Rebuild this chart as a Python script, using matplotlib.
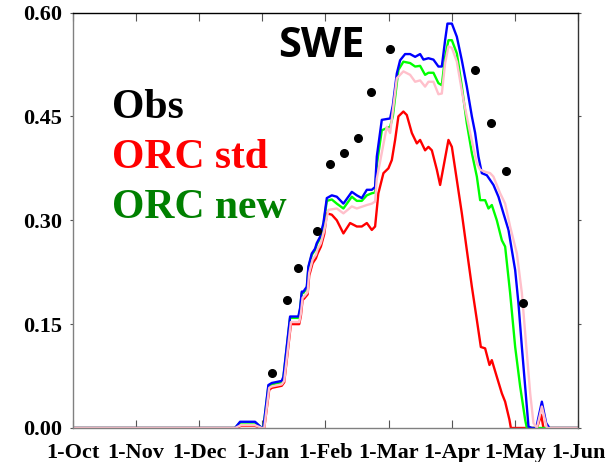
import matplotlib
matplotlib.use('Agg')
import matplotlib.pyplot as plt

# x positions are in months after 1-Oct (month ticks are evenly spaced)
month_labels = ['1-Oct', '1-Nov', '1-Dec', '1-Jan', '1-Feb',
                '1-Mar', '1-Apr', '1-May', '1-Jun']
y_ticks = [0.00, 0.15, 0.30, 0.45, 0.60]

obs_x = [3.15, 3.39, 3.57, 3.87, 4.07, 4.29, 4.52, 4.72, 5.02,
         6.37, 6.62, 6.86, 7.13]
obs_y = [0.079, 0.185, 0.231, 0.284, 0.381, 0.397, 0.419, 0.485, 0.547,
         0.517, 0.440, 0.371, 0.180]

blue_x = [0.0, 2.567, 2.647, 2.884, 2.990, 3.016, 3.095, 3.149, 3.307,
          3.333, 3.439, 3.571, 3.597, 3.624, 3.650, 3.704, 3.729, 3.783,
          3.835, 3.862, 3.914, 3.967, 4.021, 4.100, 4.179, 4.284, 4.417,
          4.496, 4.575, 4.655, 4.734, 4.786, 4.813, 4.892, 5.024, 5.067,
          5.130, 5.182, 5.261, 5.341, 5.420, 5.499, 5.552, 5.631, 5.710,
          5.789, 5.843, 5.895, 5.932, 6.002, 6.081, 6.160, 6.239, 6.319,
          6.371, 6.423, 6.477, 6.556, 6.609, 6.661, 6.740, 6.819, 6.899,
          7.005, 7.057, 7.111, 7.163, 7.216, 7.269, 7.338, 7.428, 7.496,
          7.548, 8.0]
blue_y = [0.0, 0.0, 0.009, 0.009, 0.0, 0.0, 0.062, 0.065, 0.068,
          0.074, 0.161, 0.161, 0.173, 0.197, 0.197, 0.204, 0.233, 0.252,
          0.259, 0.267, 0.276, 0.296, 0.332, 0.336, 0.334, 0.324, 0.341,
          0.336, 0.332, 0.344, 0.344, 0.348, 0.392, 0.445, 0.447, 0.466,
          0.512, 0.531, 0.540, 0.540, 0.536, 0.540, 0.532, 0.534, 0.532,
          0.522, 0.522, 0.560, 0.584, 0.584, 0.565, 0.531, 0.493, 0.450,
          0.426, 0.392, 0.368, 0.365, 0.358, 0.351, 0.334, 0.310, 0.286,
          0.228, 0.180, 0.117, 0.060, 0.002, 0.0, 0.0, 0.038, 0.007,
          0.0, 0.0]

green_x = [0.0, 2.567, 2.647, 2.884, 2.990, 3.016, 3.095, 3.149, 3.307,
           3.333, 3.439, 3.571, 3.597, 3.624, 3.650, 3.704, 3.729, 3.783,
           3.835, 3.862, 3.914, 3.967, 4.021, 4.100, 4.179, 4.284, 4.417,
           4.496, 4.575, 4.655, 4.734, 4.786, 4.813, 4.892, 5.024, 5.067,
           5.155, 5.234, 5.341, 5.420, 5.499, 5.578, 5.631, 5.710, 5.789,
           5.843, 5.895, 5.948, 6.002, 6.081, 6.160, 6.239, 6.319, 6.398,
           6.450, 6.529, 6.582, 6.635, 6.714, 6.794, 6.846, 6.925, 7.005,
           7.084, 7.163, 7.190, 8.0]
green_y = [0.0, 0.0, 0.008, 0.008, 0.0, 0.0, 0.060, 0.063, 0.066,
           0.072, 0.159, 0.159, 0.171, 0.195, 0.195, 0.202, 0.231, 0.250,
           0.257, 0.265, 0.274, 0.293, 0.328, 0.330, 0.324, 0.317, 0.334,
           0.328, 0.328, 0.336, 0.339, 0.340, 0.380, 0.430, 0.435, 0.450,
           0.517, 0.529, 0.527, 0.522, 0.523, 0.510, 0.513, 0.513, 0.498,
           0.495, 0.536, 0.560, 0.560, 0.541, 0.493, 0.440, 0.397, 0.363,
           0.329, 0.329, 0.317, 0.322, 0.300, 0.271, 0.262, 0.195, 0.117,
           0.060, 0.012, 0.0, 0.0]

pink_x = [0.0, 2.567, 2.660, 2.884, 2.990, 3.030, 3.108, 3.149, 3.307,
          3.346, 3.452, 3.584, 3.610, 3.637, 3.663, 3.717, 3.742, 3.796,
          3.848, 3.875, 3.927, 3.980, 4.046, 4.179, 4.284, 4.417, 4.496,
          4.655, 4.734, 4.786, 4.813, 4.971, 5.024, 5.130, 5.234, 5.341,
          5.420, 5.499, 5.578, 5.631, 5.710, 5.789, 5.843, 5.895, 5.948,
          6.002, 6.081, 6.185, 6.292, 6.398, 6.450, 6.529, 6.609, 6.661,
          6.767, 6.846, 6.925, 7.032, 7.111, 7.190, 7.243, 7.295, 7.349,
          7.428, 7.507, 8.0]
pink_y = [0.0, 0.0, 0.004, 0.004, 0.0, 0.0, 0.058, 0.060, 0.063,
          0.068, 0.153, 0.153, 0.165, 0.188, 0.190, 0.196, 0.224, 0.243,
          0.250, 0.258, 0.267, 0.285, 0.315, 0.317, 0.310, 0.320, 0.317,
          0.322, 0.324, 0.327, 0.360, 0.435, 0.426, 0.505, 0.515, 0.510,
          0.500, 0.502, 0.493, 0.500, 0.500, 0.482, 0.483, 0.527, 0.551,
          0.549, 0.529, 0.474, 0.426, 0.382, 0.373, 0.370, 0.368, 0.363,
          0.339, 0.324, 0.291, 0.252, 0.195, 0.108, 0.050, 0.007, 0.0,
          0.031, 0.0, 0.0]

red_x = [0.0, 2.567, 2.660, 2.884, 2.990, 3.030, 3.108, 3.149, 3.307,
         3.346, 3.452, 3.584, 3.610, 3.637, 3.663, 3.717, 3.742, 3.796,
         3.848, 3.875, 3.927, 3.980, 4.021, 4.100, 4.179, 4.284, 4.390,
         4.496, 4.575, 4.655, 4.734, 4.786, 4.838, 4.918, 4.997, 5.051,
         5.103, 5.155, 5.234, 5.288, 5.368, 5.447, 5.499, 5.578, 5.631,
         5.685, 5.764, 5.816, 5.869, 5.948, 6.002, 6.081, 6.160, 6.239,
         6.319, 6.398, 6.461, 6.529, 6.598, 6.635, 6.714, 6.794, 6.846,
         6.914, 6.937, 7.350, 7.417, 7.453, 8.0]
red_y = [0.0, 0.0, 0.003, 0.003, 0.0, 0.0, 0.055, 0.058, 0.061,
         0.066, 0.150, 0.150, 0.162, 0.185, 0.187, 0.193, 0.220, 0.238,
         0.245, 0.252, 0.262, 0.280, 0.310, 0.308, 0.300, 0.281, 0.296,
         0.291, 0.291, 0.296, 0.286, 0.291, 0.339, 0.368, 0.375, 0.387,
         0.416, 0.450, 0.457, 0.452, 0.426, 0.411, 0.416, 0.401, 0.406,
         0.401, 0.373, 0.351, 0.377, 0.416, 0.406, 0.358, 0.310, 0.257,
         0.204, 0.156, 0.117, 0.115, 0.091, 0.098, 0.074, 0.050, 0.038,
         0.012, 0.0, 0.0, 0.019, 0.0, 0.0]

serif = 'Liberation Serif'

fig = plt.figure(figsize=(6.15, 4.62), dpi=100)
ax = fig.add_axes([0.1187, 0.0736, 0.8211, 0.8993])

ax.plot(red_x, red_y, color='#ff0000', lw=1.7)
ax.plot(green_x, green_y, color='#00ff00', lw=1.7)
ax.plot(blue_x, blue_y, color='#0000ff', lw=1.7)
ax.plot(pink_x, pink_y, color='#ffc0cb', lw=1.7)
ax.plot(obs_x, obs_y, 'o', color='black', ms=5.5)

ax.set_xlim(0, 8)
ax.set_ylim(0, 0.6)
ax.set_xticks(range(len(month_labels)))
ax.set_xticklabels(month_labels)
ax.set_yticks(y_ticks)
ax.set_yticklabels(['%.2f' % v for v in y_ticks])

for lbl in ax.get_xticklabels() + ax.get_yticklabels():
    lbl.set_fontfamily(serif)
    lbl.set_fontweight('bold')
    lbl.set_fontsize(16)

ax.tick_params(axis='x', direction='in', length=5.5, width=0.8,
               color='#555555', top=True, pad=11)
ax.tick_params(axis='y', direction='out', length=2, width=0.8,
               color='#555555', right=True, pad=6)

ax.spines['left'].set_color('#808080')
ax.spines['bottom'].set_color('#808080')
ax.spines['top'].set_color('black')
ax.spines['right'].set_color('#333333')
for sp in ax.spines.values():
    sp.set_linewidth(1.0)

fig.text(0.522, 0.8766, 'SWE', family='Open Sans', weight='bold',
         fontsize=30, ha='center', va='baseline')

fig.text(0.182, 0.7446, 'Obs', family=serif, weight='bold',
         fontsize=30, color='black', va='baseline')
fig.text(0.182, 0.6364, 'ORC std', family=serif, weight='bold',
         fontsize=30, color='#ff0000', va='baseline')
fig.text(0.182, 0.5281, 'ORC new', family=serif, weight='bold',
         fontsize=30, color='#008000', va='baseline')

fig.savefig('out.png', dpi=100)
